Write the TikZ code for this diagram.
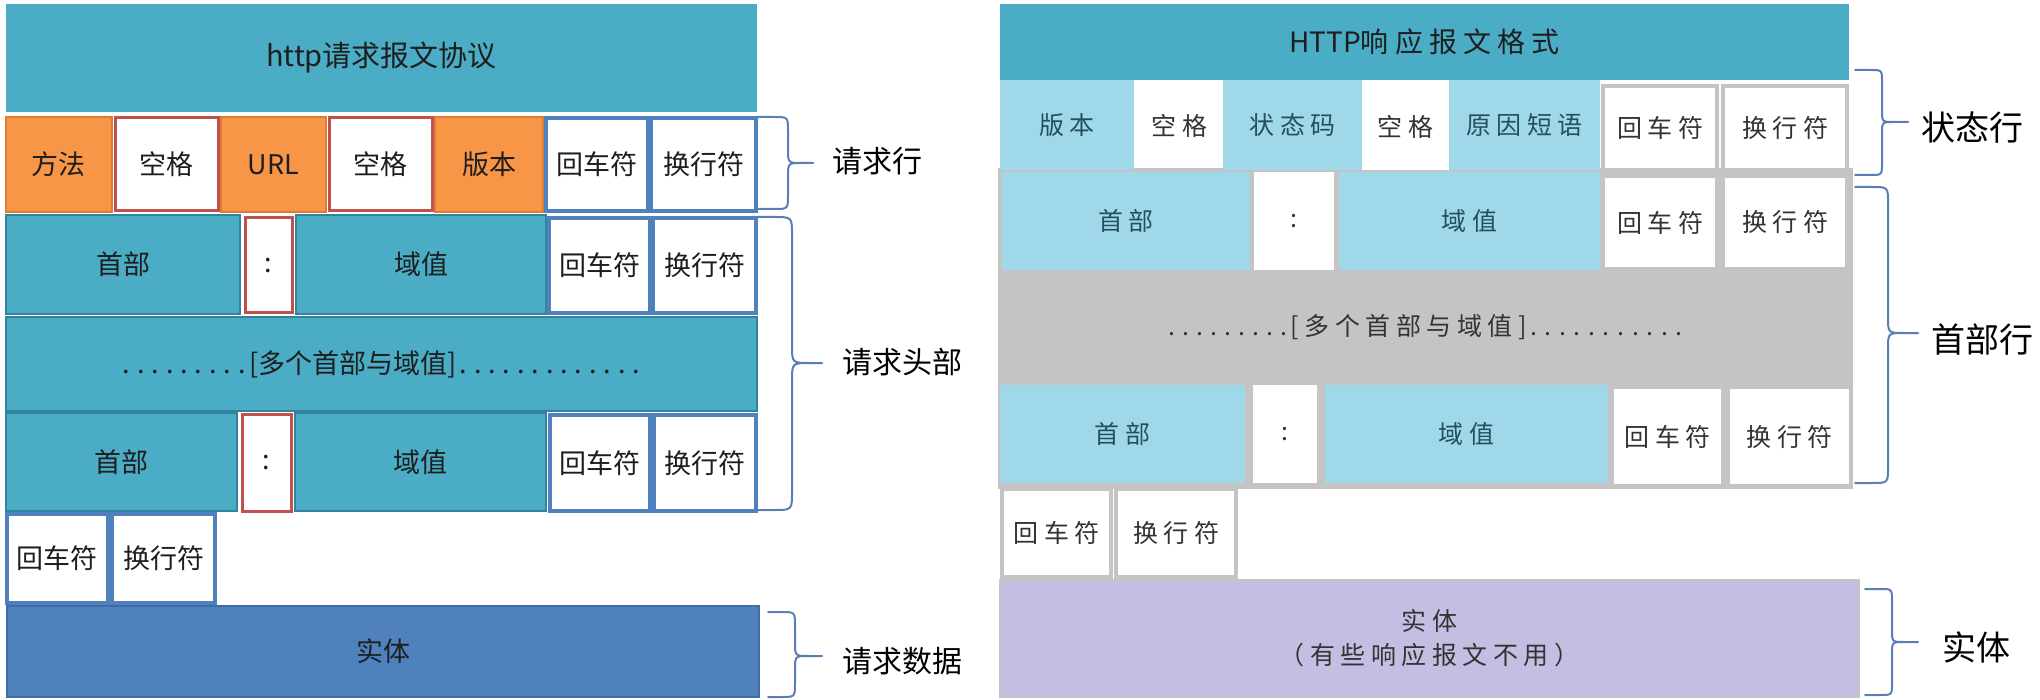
\documentclass[tikz,border=0pt]{standalone}
\usepackage{fontspec}
\setmainfont{Noto Sans CJK SC}
\newfontfamily\rfont[LetterSpace=22]{Noto Sans CJK SC}
\newfontfamily\plainfont{Noto Sans CJK SC}
\definecolor{cTeal}{HTML}{4BACC6}
\definecolor{cTealDark}{HTML}{31849B}
\definecolor{cOrange}{HTML}{F79646}
\definecolor{cOrangeDark}{HTML}{E07B34}
\definecolor{cRed}{HTML}{C0504D}
\definecolor{cBlue}{HTML}{4F81BD}
\definecolor{cBlueDark}{HTML}{3F6DA8}
\definecolor{cLB}{HTML}{9FD9E9}
\definecolor{cGray}{HTML}{C4C4C4}
\definecolor{cPurple}{HTML}{C5BEE2}
\definecolor{cBrace}{HTML}{5A7DB5}
\definecolor{cTxt}{HTML}{1E1E1E}
\definecolor{cTxtR}{HTML}{24505E}
\definecolor{cTxtW}{HTML}{333333}
\tikzset{
  cellbase/.style={rectangle, inner sep=0pt, outer sep=0pt, align=center, text=cTxt,
    font=\fontsize{13.5}{15}\selectfont},
  lorange/.style={cellbase, fill=cOrange, draw=cOrangeDark, line width=0.6pt},
  lredw/.style={cellbase, fill=white, draw=cRed, line width=1.5pt},
  lbluew/.style={cellbase, fill=white, draw=cBlue, line width=1.6pt},
  lteal/.style={cellbase, fill=cTeal, draw=cTealDark, line width=1pt},
  ltitle/.style={cellbase, fill=cTeal, font=\fontsize{14.5}{16}\selectfont, text=cTxt},
  lbody/.style={cellbase, fill=cBlue, draw=cBlueDark, line width=0.8pt},
  rbase/.style={rectangle, inner sep=0pt, outer sep=0pt, align=center,
    font=\rfont\fontsize{12.5}{17}\selectfont},
  rtitle/.style={rbase, fill=cTeal, text=cTxt, font=\rfont\fontsize{14}{16}\selectfont},
  rlb/.style={rbase, fill=cLB, text=cTxtR},
  rw/.style={rbase, fill=white, text=cTxtW},
  rwg/.style={rbase, fill=white, text=cTxtW, draw=cGray, line width=2.2pt},
  rgray/.style={rbase, fill=cGray, text=cTxtW},
  rbody/.style={rbase, fill=cPurple, text=cTxtW, draw=cGray, line width=0.8pt},
  lbl/.style={inner sep=0pt, text=black, font=\fontsize{15}{17}\selectfont},
  rlbl/.style={inner sep=0pt, text=black, font=\fontsize{17}{19}\selectfont},
  bracestyle/.style={draw=cBrace, line width=1pt, line cap=round, line join=round}
}
\newcommand\cell[7]{%
  \node[#2, minimum width={0.5pt*(#5-#3)}, minimum height={0.5pt*(#6-#4)}]
    (#1) at ({(#3+#5)/2},{(#4+#6)/2}) {#7};}
\newcommand\cbrace[7]{%
  \draw[bracestyle] (#1,#4) -- ({#2-#7},#4) .. controls (#2,#4) .. (#2,{#4+#7})
    -- (#2,{#5-#7}) .. controls (#2,#5) .. ({#2+#7},#5) -- (#3,#5)
    ({#2+#7},#5) .. controls (#2,#5) .. (#2,{#5+#7})
    -- (#2,{#6-#7}) .. controls (#2,#6) .. ({#2-#7},#6) -- (#1,#6);}
\newcommand\dotrun[2]{\hbox to #1pt{\xleaders\hbox to #2pt{\hss.\hss}\hfill}}
\begin{document}
\begin{tikzpicture}[x=0.5pt, y=-0.5pt]
\useasboundingbox (0,0) rectangle (2040,700);
% ---------------- left: request ----------------
\cell{ltit}{ltitle}{6}{4}{757}{112}{http请求报文协议}
\cell{lmeth}{lorange}{6}{117}{112}{212}{方法}
\cell{lsp1}{lredw}{115}{118}{218}{211}{空格}
\cell{lurl}{lorange}{221}{117}{326}{212}{URL}
\cell{lsp2}{lredw}{329}{118}{432}{211}{空格}
\cell{lver}{lorange}{435}{117}{543}{212}{版本}
\cell{lcr1}{lbluew}{546}{118}{648}{211}{回车符}
\cell{llf1}{lbluew}{651}{118}{756}{211}{换行符}
\cell{lh1}{lteal}{6}{215}{240}{314}{首部}
\cell{lc1}{lredw}{245}{218}{292}{313}{:}
\cell{lv1}{lteal}{296}{215}{546}{314}{域值}
\cell{lcr2}{lbluew}{549}{218}{650}{313}{回车符}
\cell{llf2}{lbluew}{653}{218}{756}{313}{换行符}
\cell{lmulti}{lteal}{6}{317}{757}{411}{\dotrun{64.8}{7.2}[多个首部与域值]\dotrun{93.6}{7.2}}
\cell{lh2}{lteal}{6}{413}{237}{511}{首部}
\cell{lc2}{lredw}{242}{414}{291}{511}{:}
\cell{lv2}{lteal}{295}{413}{546}{511}{域值}
\cell{lcr3}{lbluew}{550}{415}{650}{511}{回车符}
\cell{llf3}{lbluew}{654}{415}{756}{511}{换行符}
\cell{lcr4}{lbluew}{7}{514}{108}{603}{回车符}
\cell{llf4}{lbluew}{112}{514}{215}{603}{换行符}
\cell{lbody}{lbody}{7}{606}{759}{697}{实体}
\cbrace{758}{788}{813}{117}{163}{209}{14}
\cbrace{758}{792}{822}{217}{363}{510}{18}
\cbrace{768}{795}{822}{612}{656}{697}{14}
\node[lbl] (lblreq) at (877,161) {请求行};
\node[lbl] (lblhead) at (902,362) {请求头部};
\node[lbl] (lbldata) at (902,661) {请求数据};
% ---------------- right: response ----------------
\fill[cGray] (998,168) rectangle (1853,489);
\cell{rtit}{rtitle}{1000}{4}{1849}{80}{{\plainfont HTTP}响应报文格式}
\cell{rver}{rlb}{1000}{80}{1134}{170}{版本}
\cell{rsp1}{rw}{1136}{83}{1223}{168}{空格}
\cell{rcode}{rlb}{1223}{80}{1362}{170}{状态码}
\cell{rsp2}{rw}{1362}{83}{1449}{170}{空格}
\cell{rreason}{rlb}{1449}{80}{1600}{170}{原因短语}
\cell{rcr1}{rwg}{1603}{86}{1717}{170}{回车符}
\cell{rlf1}{rwg}{1723}{86}{1847}{170}{换行符}
\cell{rh1}{rlb}{1002}{172}{1250}{270}{首部}
\cell{rc1}{rw}{1254}{172}{1334}{270}{:}
\cell{rv1}{rlb}{1339}{172}{1600}{270}{域值}
\cell{rcr2}{rwg}{1603}{176}{1717}{269}{回车符}
\cell{rlf2}{rwg}{1723}{176}{1847}{269}{换行符}
\cell{rmulti}{rgray}{1000}{273}{1851}{382}{\dotrun{63}{7}[多个首部与域值]\dotrun{80}{7.25}}
\cell{rh2}{rlb}{1000}{385}{1245}{483}{首部}
\cell{rc2}{rw}{1253}{385}{1317}{483}{:}
\cell{rv2}{rlb}{1325}{385}{1608}{483}{域值}
\cell{rcr3}{rwg}{1612}{387}{1723}{486}{回车符}
\cell{rlf3}{rwg}{1728}{387}{1851}{486}{换行符}
\cell{rcr4}{rwg}{1002}{489}{1111}{577}{回车符}
\cell{rlf4}{rwg}{1116}{489}{1236}{577}{换行符}
\cell{rbody}{rbody}{1000}{580}{1859}{697}{实体\\（有些响应报文不用）}
\cbrace{1855}{1882}{1908}{70}{122}{175}{12}
\cbrace{1855}{1888}{1918}{187}{333}{483}{16}
\cbrace{1865}{1892}{1918}{589}{642}{695}{12}
\node[rlbl] (rlblstat) at (1972,128) {状态行};
\node[rlbl] (rlblhead) at (1982,340) {首部行};
\node[rlbl] (rlblbody) at (1976,647) {实体};
\end{tikzpicture}
\end{document}
